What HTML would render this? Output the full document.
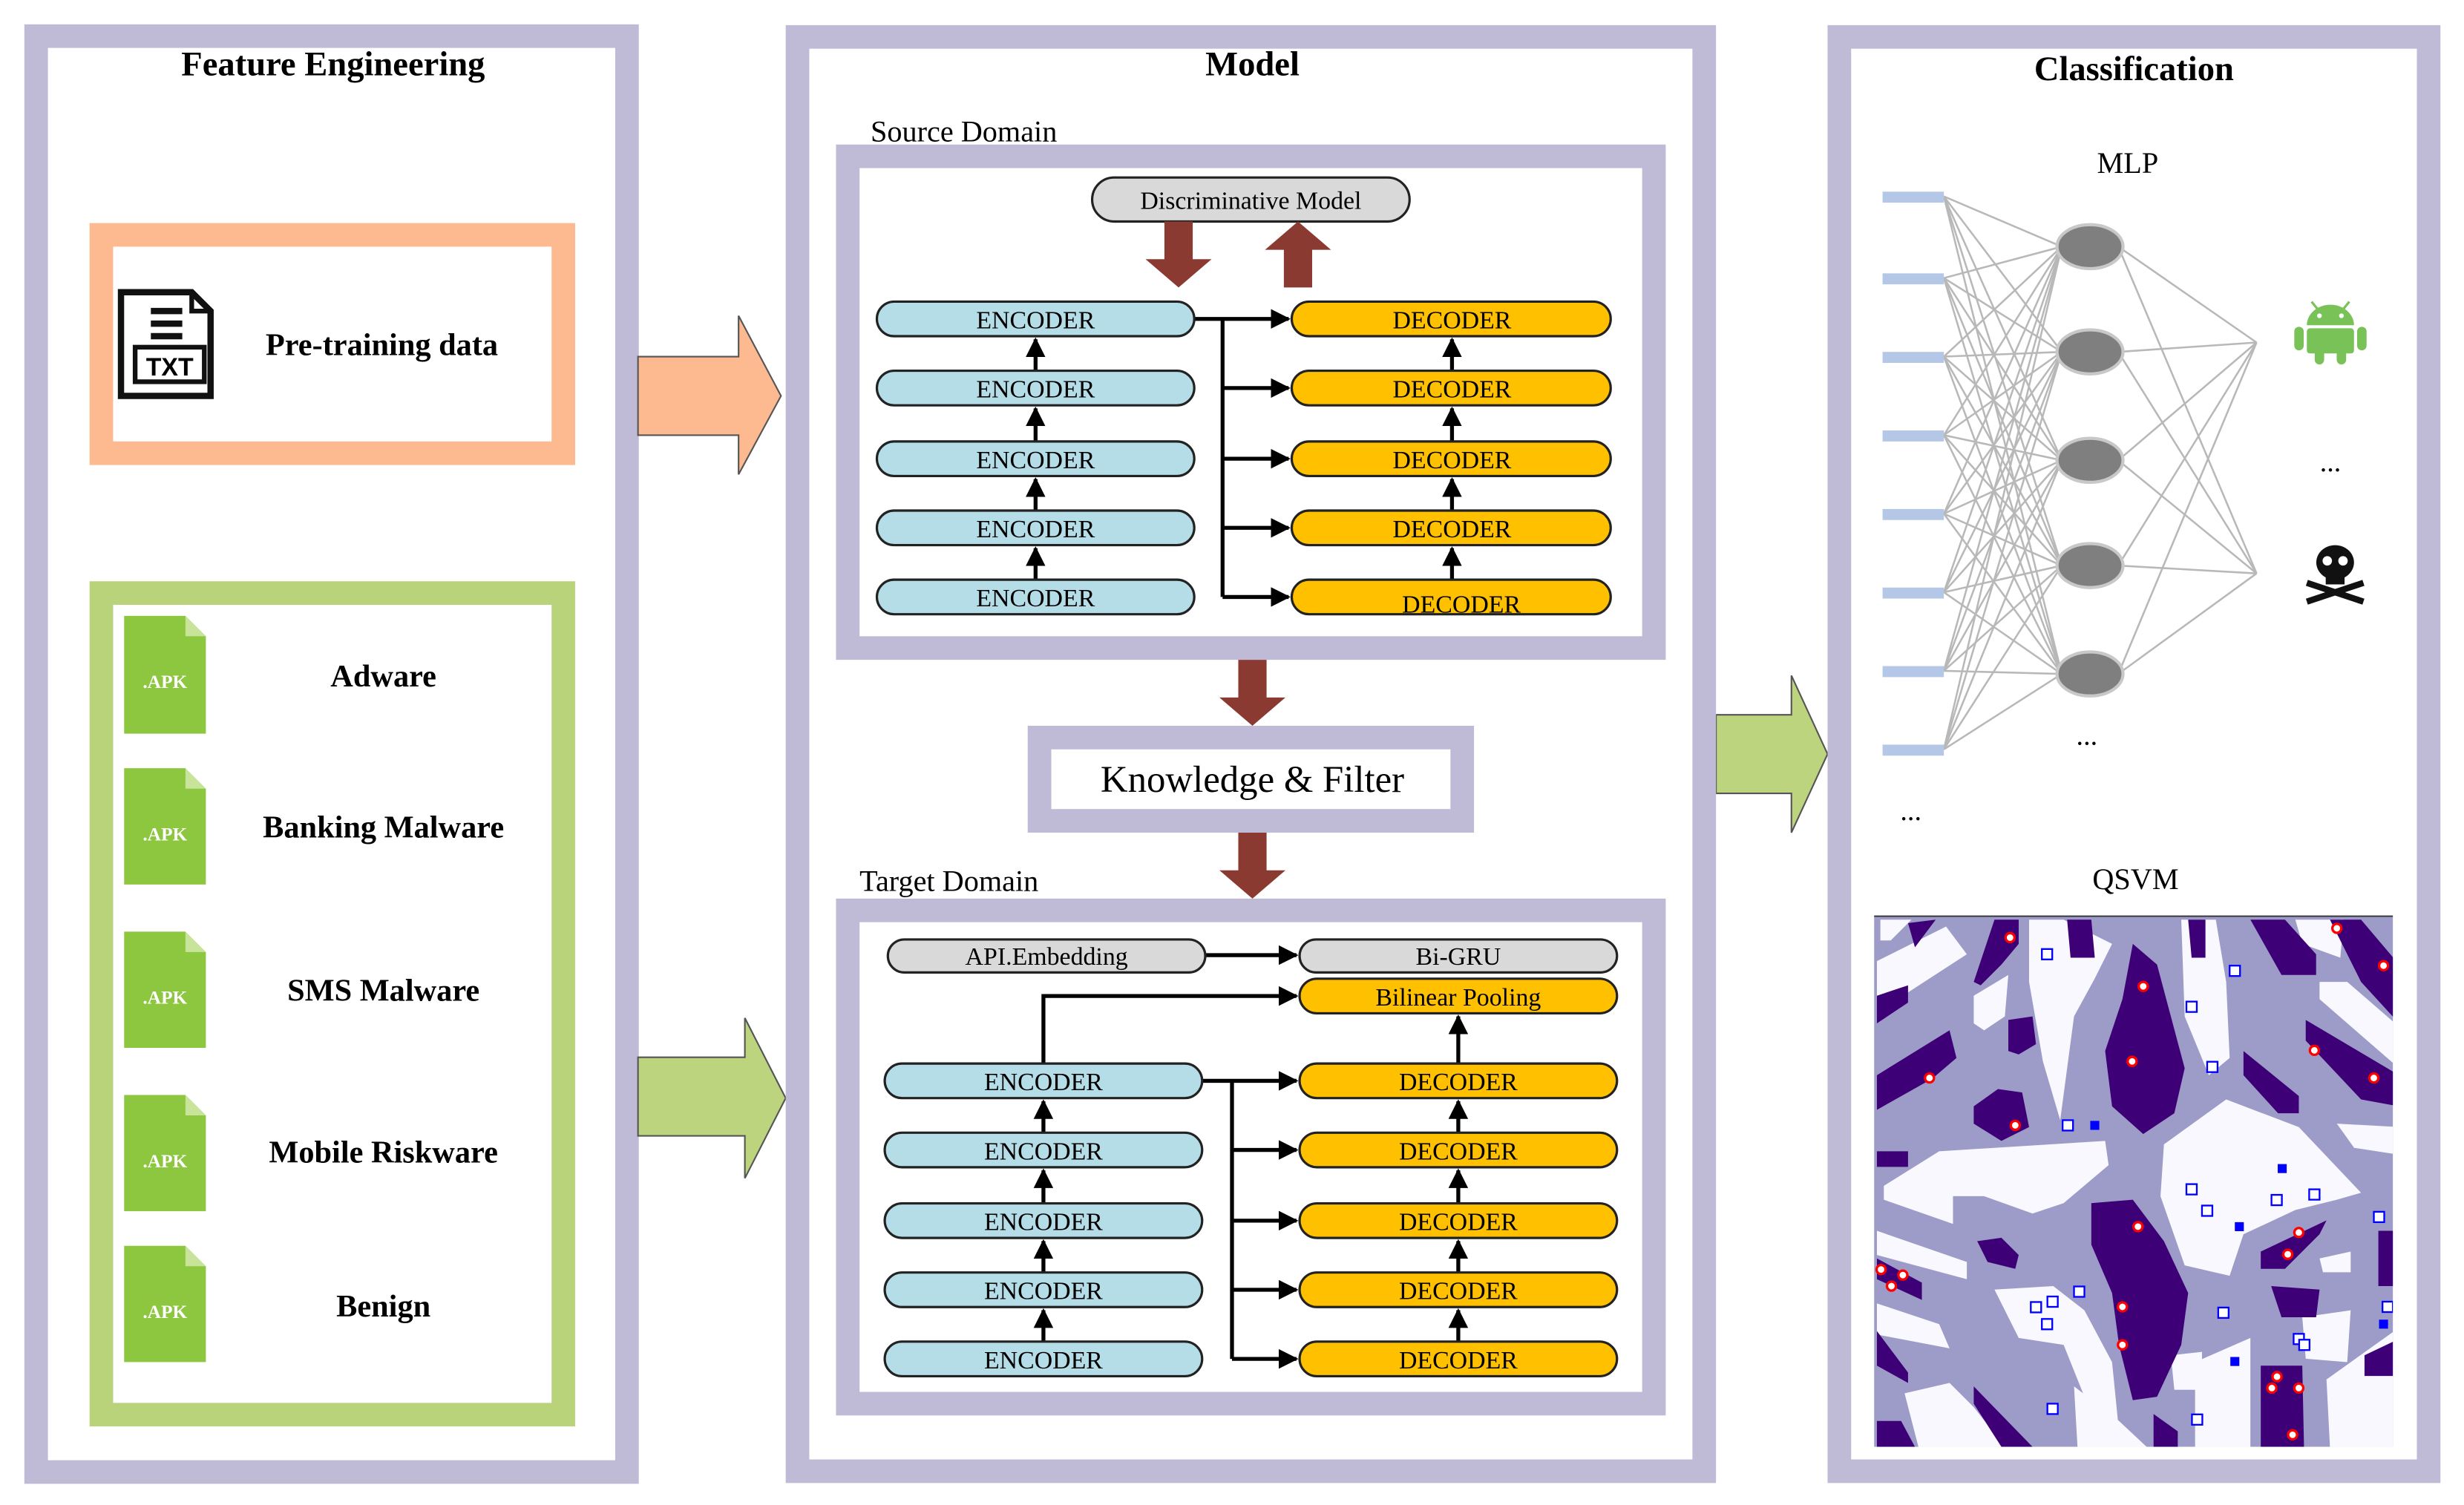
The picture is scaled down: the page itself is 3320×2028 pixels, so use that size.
<!DOCTYPE html>
<html><head><meta charset="utf-8">
<style>
html,body{margin:0;padding:0;background:#fff;}
svg{display:block;}
text{font-family:"Liberation Serif",serif;}
</style></head><body>
<svg width="3320" height="2028" viewBox="0 0 1568 958" preserveAspectRatio="none" xmlns="http://www.w3.org/2000/svg">
<defs>
<marker id="ah" viewBox="0 0 10 10" refX="9" refY="5" markerWidth="5" markerHeight="5" orient="auto"><path d="M0,0L10,5L0,10z" fill="#000"/></marker>
<clipPath id="pc"><rect x="12" y="10" width="1500" height="1535"/></clipPath>
</defs>
<rect width="1568" height="958" fill="#fff"/>
<!-- Panel 1 -->
<rect x="23" y="23" width="376" height="914" fill="#fff" stroke="#bfbad6" stroke-width="15"/>
<text x="212" y="48" font-size="22" font-weight="bold" text-anchor="middle">Feature Engineering</text>
<rect x="64.5" y="149.5" width="294" height="139" fill="#fff" stroke="#fdb98f" stroke-width="15"/>
<g>
<path d="M77,186 H122 L134,198 V252 H77 Z" fill="#fff" stroke="#111" stroke-width="4"/>
<path d="M122,186 V198 H134" fill="none" stroke="#111" stroke-width="3"/>
<line x1="96" y1="198" x2="116" y2="198" stroke="#111" stroke-width="4"/>
<line x1="96" y1="206" x2="116" y2="206" stroke="#111" stroke-width="4"/>
<line x1="96" y1="214" x2="116" y2="214" stroke="#111" stroke-width="4"/>
<rect x="86" y="221" width="44" height="22" fill="#fff" stroke="#111" stroke-width="3"/>
<text x="108" y="239" font-size="16" font-weight="bold" text-anchor="middle" style="font-family:'Liberation Sans',sans-serif">TXT</text>
</g>
<text x="243" y="226" font-size="20" font-weight="bold" text-anchor="middle">Pre-training data</text>
<rect x="64.5" y="377.5" width="294" height="523" fill="#fff" stroke="#b9d37a" stroke-width="15"/>
<path d="M79,392 H118 L131,405 V467 H79 Z" fill="#8dc63f"/><path d="M118,392 V405 H131 Z" fill="#c8e39a"/>
<path d="M79,489 H118 L131,502 V563 H79 Z" fill="#8dc63f"/><path d="M118,489 V502 H131 Z" fill="#c8e39a"/>
<path d="M79,593 H118 L131,606 V667 H79 Z" fill="#8dc63f"/><path d="M118,593 V606 H131 Z" fill="#c8e39a"/>
<path d="M79,697 H118 L131,710 V771 H79 Z" fill="#8dc63f"/><path d="M118,697 V710 H131 Z" fill="#c8e39a"/>
<path d="M79,793 H118 L131,806 V867 H79 Z" fill="#8dc63f"/><path d="M118,793 V806 H131 Z" fill="#c8e39a"/>
<g fill="#ffffff" font-size="12" font-weight="bold" text-anchor="middle" style="font-family:'Liberation Sans',sans-serif">
<text x="105" y="438" fill="#ffffff">.APK</text>
<text x="105" y="535" fill="#ffffff">.APK</text>
<text x="105" y="639" fill="#ffffff">.APK</text>
<text x="105" y="743" fill="#ffffff">.APK</text>
<text x="105" y="839" fill="#ffffff">.APK</text>
</g>
<g font-size="20" font-weight="bold" text-anchor="middle">
<text x="244" y="437">Adware</text>
<text x="244" y="533">Banking Malware</text>
<text x="244" y="637">SMS Malware</text>
<text x="244" y="740">Mobile Riskware</text>
<text x="244" y="838">Benign</text>
</g>
<path d="M406,227 H470 V201 L497,252 L470,302 V277 H406 Z" fill="#fdb98f" stroke="#555" stroke-width="1"/>
<path d="M406,673 H474 V648 L500,699 L474,750 V723 H406 Z" fill="#bcd47e" stroke="#555" stroke-width="1"/>
<path d="M1092,455 H1140 V430 L1163,480 L1140,530 V505 H1092 Z" fill="#bcd47e" stroke="#555" stroke-width="1"/>
<!-- Panel 2 -->
<rect x="507.5" y="23.5" width="577" height="913" fill="#fff" stroke="#bfbad6" stroke-width="15"/>
<text x="797" y="48" font-size="22" font-weight="bold" text-anchor="middle">Model</text>
<text x="554" y="90" font-size="19">Source Domain</text>
<rect x="539.5" y="99.5" width="513" height="313" fill="#fff" stroke="#bfbad6" stroke-width="15"/>
<rect x="695" y="113" width="202" height="28" rx="14" fill="#d9d9d9" stroke="#222" stroke-width="1.5"/>
<text x="796" y="133" font-size="16" text-anchor="middle">Discriminative Model</text>
<path d="M741,141 H759 V165 H771 L750,183 L729,165 H741 Z" fill="#8b3a32"/>
<path d="M817,183 H835 V159 H847 L826,141 L805,159 H817 Z" fill="#8b3a32"/>
<g stroke="#000" stroke-width="2.5" fill="none">
<path d="M760,203 H820" marker-end="url(#ah)"/>
<path d="M778,203 V380"/>
<path d="M778,247 H820" marker-end="url(#ah)"/>
<path d="M778,292 H820" marker-end="url(#ah)"/>
<path d="M778,336 H820" marker-end="url(#ah)"/>
<path d="M778,380 H820" marker-end="url(#ah)"/>
<path d="M659,369 V349" marker-end="url(#ah)"/>
<path d="M659,325 V305" marker-end="url(#ah)"/>
<path d="M659,281 V260" marker-end="url(#ah)"/>
<path d="M659,236 V216" marker-end="url(#ah)"/>
<path d="M924,369 V349" marker-end="url(#ah)"/>
<path d="M924,325 V305" marker-end="url(#ah)"/>
<path d="M924,281 V260" marker-end="url(#ah)"/>
<path d="M924,236 V216" marker-end="url(#ah)"/>
</g>
<g font-size="16" text-anchor="middle">
<rect x="558" y="192" width="202" height="22" rx="11" fill="#b4dde8" stroke="#222" stroke-width="1.5"/><text x="659" y="209">ENCODER</text>
<rect x="558" y="236" width="202" height="22" rx="11" fill="#b4dde8" stroke="#222" stroke-width="1.5"/><text x="659" y="253">ENCODER</text>
<rect x="558" y="281" width="202" height="22" rx="11" fill="#b4dde8" stroke="#222" stroke-width="1.5"/><text x="659" y="298">ENCODER</text>
<rect x="558" y="325" width="202" height="22" rx="11" fill="#b4dde8" stroke="#222" stroke-width="1.5"/><text x="659" y="342">ENCODER</text>
<rect x="558" y="369" width="202" height="22" rx="11" fill="#b4dde8" stroke="#222" stroke-width="1.5"/><text x="659" y="386">ENCODER</text>
<rect x="822" y="192" width="203" height="22" rx="11" fill="#ffc000" stroke="#222" stroke-width="1.5"/><text x="924" y="209">DECODER</text>
<rect x="822" y="236" width="203" height="22" rx="11" fill="#ffc000" stroke="#222" stroke-width="1.5"/><text x="924" y="253">DECODER</text>
<rect x="822" y="281" width="203" height="22" rx="11" fill="#ffc000" stroke="#222" stroke-width="1.5"/><text x="924" y="298">DECODER</text>
<rect x="822" y="325" width="203" height="22" rx="11" fill="#ffc000" stroke="#222" stroke-width="1.5"/><text x="924" y="342">DECODER</text>
<rect x="822" y="369" width="203" height="22" rx="11" fill="#ffc000" stroke="#222" stroke-width="1.5"/><text x="930" y="390">DECODER</text>
</g>
<path d="M788,420 H806 V444 H818 L797,462 L776,444 H788 Z" fill="#8b3a32"/>
<rect x="661.5" y="469.5" width="269" height="53" fill="#fff" stroke="#bfbad6" stroke-width="15"/>
<text x="797" y="504" font-size="24" text-anchor="middle">Knowledge &amp; Filter</text>
<path d="M788,530 H806 V554 H818 L797,572 L776,554 H788 Z" fill="#8b3a32"/>
<text x="547" y="567" font-size="19">Target Domain</text>
<rect x="539.5" y="579.5" width="513" height="314" fill="#fff" stroke="#bfbad6" stroke-width="15"/>
<g stroke="#000" stroke-width="2.5" fill="none">
<path d="M767,608 H825" marker-end="url(#ah)"/>
<path d="M664,677 V634 H825" marker-end="url(#ah)"/>
<path d="M928,677 V647" marker-end="url(#ah)"/>
<path d="M765,688 H825" marker-end="url(#ah)"/>
<path d="M784,688 V865"/>
<path d="M784,732 H825" marker-end="url(#ah)"/>
<path d="M784,777 H825" marker-end="url(#ah)"/>
<path d="M784,821 H825" marker-end="url(#ah)"/>
<path d="M784,865 H825" marker-end="url(#ah)"/>
<path d="M664,854 V834" marker-end="url(#ah)"/>
<path d="M664,810 V790" marker-end="url(#ah)"/>
<path d="M664,766 V745" marker-end="url(#ah)"/>
<path d="M664,721 V701" marker-end="url(#ah)"/>
<path d="M928,854 V834" marker-end="url(#ah)"/>
<path d="M928,810 V790" marker-end="url(#ah)"/>
<path d="M928,766 V745" marker-end="url(#ah)"/>
<path d="M928,721 V701" marker-end="url(#ah)"/>
</g>
<g font-size="16" text-anchor="middle">
<rect x="565" y="598" width="202" height="21" rx="10.5" fill="#d9d9d9" stroke="#222" stroke-width="1.5"/><text x="666" y="614">API.Embedding</text>
<rect x="827" y="598" width="202" height="21" rx="10.5" fill="#d9d9d9" stroke="#222" stroke-width="1.5"/><text x="928" y="614">Bi-GRU</text>
<rect x="827" y="623" width="202" height="22" rx="11" fill="#ffc000" stroke="#222" stroke-width="1.5"/><text x="928" y="640">Bilinear Pooling</text>
<rect x="563" y="677" width="202" height="22" rx="11" fill="#b4dde8" stroke="#222" stroke-width="1.5"/><text x="664" y="694">ENCODER</text>
<rect x="563" y="721" width="202" height="22" rx="11" fill="#b4dde8" stroke="#222" stroke-width="1.5"/><text x="664" y="738">ENCODER</text>
<rect x="563" y="766" width="202" height="22" rx="11" fill="#b4dde8" stroke="#222" stroke-width="1.5"/><text x="664" y="783">ENCODER</text>
<rect x="563" y="810" width="202" height="22" rx="11" fill="#b4dde8" stroke="#222" stroke-width="1.5"/><text x="664" y="827">ENCODER</text>
<rect x="563" y="854" width="202" height="22" rx="11" fill="#b4dde8" stroke="#222" stroke-width="1.5"/><text x="664" y="871">ENCODER</text>
<rect x="827" y="677" width="202" height="22" rx="11" fill="#ffc000" stroke="#222" stroke-width="1.5"/><text x="928" y="694">DECODER</text>
<rect x="827" y="721" width="202" height="22" rx="11" fill="#ffc000" stroke="#222" stroke-width="1.5"/><text x="928" y="738">DECODER</text>
<rect x="827" y="766" width="202" height="22" rx="11" fill="#ffc000" stroke="#222" stroke-width="1.5"/><text x="928" y="783">DECODER</text>
<rect x="827" y="810" width="202" height="22" rx="11" fill="#ffc000" stroke="#222" stroke-width="1.5"/><text x="928" y="827">DECODER</text>
<rect x="827" y="854" width="202" height="22" rx="11" fill="#ffc000" stroke="#222" stroke-width="1.5"/><text x="928" y="871">DECODER</text>
</g>
<!-- Panel 3 -->
<rect x="1170.5" y="23.5" width="375" height="913" fill="#fff" stroke="#bfbad6" stroke-width="15"/>
<text x="1358" y="51" font-size="22" font-weight="bold" text-anchor="middle">Classification</text>
<text x="1354" y="110" font-size="19" text-anchor="middle">MLP</text>
<g stroke="#b8b8b8" stroke-width="1.2" id="lines"></g>
<script>
(function(){
var ns="http://www.w3.org/2000/svg",g=document.getElementById("lines");
var ins=[125,177,227,277,327,377,427,477],hs=[157,224,293,360,429],os=[218,365];
function L(a,b,c,d){var l=document.createElementNS(ns,"line");l.setAttribute("x1",a);l.setAttribute("y1",b);l.setAttribute("x2",c);l.setAttribute("y2",d);g.appendChild(l);}
ins.forEach(function(y){hs.forEach(function(h){L(1237,y,1312,h);});});
hs.forEach(function(h){os.forEach(function(o){L(1348,h,1436,o);});});
})();
</script>
<g fill="#b4c7e7">
<rect x="1198" y="122" width="39" height="7"/><rect x="1198" y="174" width="39" height="7"/><rect x="1198" y="224" width="39" height="7"/><rect x="1198" y="274" width="39" height="7"/><rect x="1198" y="324" width="39" height="7"/><rect x="1198" y="374" width="39" height="7"/><rect x="1198" y="424" width="39" height="7"/><rect x="1198" y="474" width="39" height="7"/>
</g>
<g fill="#7f7f7f" stroke="#c8c8c8" stroke-width="2">
<ellipse cx="1330" cy="157" rx="21" ry="14"/><ellipse cx="1330" cy="224" rx="21" ry="14"/><ellipse cx="1330" cy="293" rx="21" ry="14"/><ellipse cx="1330" cy="360" rx="21" ry="14"/><ellipse cx="1330" cy="429" rx="21" ry="14"/>
</g>
<g fill="#78c257">
<path d="M1468,207 a15,13 0 0 1 30,0 z"/>
<rect x="1468" y="209" width="30" height="16" rx="2"/>
<rect x="1460" y="208" width="6" height="15" rx="3"/><rect x="1500" y="208" width="6" height="15" rx="3"/>
<rect x="1473" y="222" width="6" height="10" rx="3"/><rect x="1487" y="222" width="6" height="10" rx="3"/>
<line x1="1471" y1="192" x2="1475" y2="197" stroke="#78c257" stroke-width="1.5"/><line x1="1495" y1="192" x2="1491" y2="197" stroke="#78c257" stroke-width="1.5"/>
</g>
<circle cx="1476" cy="201" r="1.5" fill="#fff"/><circle cx="1490" cy="201" r="1.5" fill="#fff"/>
<text x="1483" y="300" font-size="18" text-anchor="middle">...</text>
<g fill="#111">
<path d="M1468,371 L1504,383 M1504,371 L1468,383" stroke="#111" stroke-width="4"/>
<ellipse cx="1486" cy="358" rx="12" ry="11"/>
<rect x="1480" y="363" width="12" height="9"/>
</g>
<circle cx="1481" cy="357" r="3" fill="#fff"/><circle cx="1491" cy="357" r="3" fill="#fff"/>
<text x="1328" y="474" font-size="18" text-anchor="middle">...</text>
<text x="1216" y="522" font-size="18" text-anchor="middle">...</text>
<text x="1359" y="566" font-size="19" text-anchor="middle">QSVM</text>
<svg x="1190" y="581" width="340" height="340" viewBox="0 0 1545 1545">
<g clip-path="url(#pc)">
<rect x="0" y="0" width="1545" height="1545" fill="#9d9bc8"/>
<g fill="#f8f8fe">
<polygon points="850,670 1030,540 1240,620 1420,810 1350,830 1230,860 1080,930 1040,1050 910,1020 840,820"/>
<polygon points="40,790 200,690 680,660 690,730 560,840 470,870 330,820 240,820 240,900 40,830"/>
<polygon points="460,20 560,20 700,90 650,190 590,300 550,600 500,430 460,200"/>
<polygon points="360,1090 530,1080 620,1150 700,1300 720,1500 640,1450 560,1250 430,1230"/>
<polygon points="900,20 1000,20 1030,200 1040,420 980,470 910,300"/>
<polygon points="1230,20 1370,20 1360,130 1250,90"/>
<polygon points="1300,200 1380,200 1530,330 1530,450 1300,250"/>
<polygon points="20,140 220,40 280,120 80,250 20,260"/>
<polygon points="300,240 400,180 390,300 330,340 300,320"/>
<polygon points="1250,1170 1390,1150 1380,1300 1260,1290"/>
<polygon points="870,1280 960,1270 960,1380 880,1380"/>
<polygon points="940,1300 1100,1230 1100,1545 940,1545"/>
<polygon points="20,1130 200,1190 230,1260 20,1220"/>
<polygon points="100,1390 230,1360 300,1430 390,1545 140,1545"/>
<polygon points="590,1370 720,1470 800,1545 600,1545"/>
<polygon points="1320,1350 1530,1200 1530,1545 1330,1545"/>
<polygon points="1300,1000 1390,980 1390,1040 1310,1040"/>
<polygon points="1350,610 1530,620 1530,700 1400,680"/>
<polygon points="20,920 280,1010 280,1060 20,990"/>
<polygon points="30,20 120,20 60,80 30,80"/>
</g>
<g fill="#3d0077">
<polygon points="640,840 760,830 850,950 920,1100 900,1250 830,1400 760,1410 720,1250 700,1100 640,960"/>
<polygon points="760,90 830,150 870,300 910,450 880,580 790,640 700,560 680,400 730,250"/>
<polygon points="20,470 230,340 250,420 180,480 20,570"/>
<polygon points="300,560 370,510 440,520 460,620 380,660 300,610"/>
<polygon points="300,200 360,20 430,20 430,90 380,150 320,210"/>
<polygon points="1100,20 1200,20 1290,120 1290,180 1190,180"/>
<polygon points="1330,20 1420,20 1530,150 1530,320 1420,200"/>
<polygon points="1260,310 1530,470 1530,560 1420,540 1260,370"/>
<polygon points="1080,400 1240,530 1240,580 1180,580 1080,470"/>
<polygon points="1130,980 1320,890 1300,930 1200,1030 1130,1030"/>
<polygon points="1470,920 1535,920 1535,1080 1470,1080"/>
<polygon points="1160,1080 1300,1090 1290,1170 1190,1170"/>
<polygon points="1130,1310 1250,1310 1255,1545 1130,1545"/>
<polygon points="820,1450 890,1500 890,1545 820,1545"/>
<polygon points="300,1370 470,1545 380,1545 300,1420"/>
<polygon points="20,1210 110,1330 110,1360 20,1310"/>
<polygon points="20,1000 150,1070 150,1120 20,1060"/>
<polygon points="310,950 380,940 430,990 420,1030 340,1010"/>
<polygon points="20,690 110,690 110,735 20,735"/>
<polygon points="570,20 640,20 650,130 580,130"/>
<polygon points="20,240 110,210 110,260 20,320"/>
<polygon points="400,310 470,300 480,380 430,410 400,400"/>
<polygon points="110,30 190,20 130,100"/>
<polygon points="920,20 970,20 970,130 930,130"/>
<polygon points="1430,1280 1535,1230 1535,1340 1430,1340"/>
<polygon points="20,1470 90,1470 130,1545 20,1545"/>
</g>
<g fill="#fff" stroke="#ff0000" stroke-width="7">
<circle cx="405" cy="72" r="13"/><circle cx="1350" cy="45" r="13"/><circle cx="1485" cy="153" r="13"/><circle cx="790" cy="213" r="13"/><circle cx="758" cy="430" r="13"/><circle cx="1285" cy="398" r="13"/><circle cx="1457" cy="478" r="13"/><circle cx="172" cy="478" r="13"/><circle cx="420" cy="615" r="13"/><circle cx="775" cy="908" r="13"/><circle cx="1240" cy="925" r="13"/><circle cx="1208" cy="988" r="13"/><circle cx="32" cy="1032" r="13"/><circle cx="95" cy="1048" r="13"/><circle cx="62" cy="1080" r="13"/><circle cx="730" cy="1140" r="13"/><circle cx="730" cy="1250" r="13"/><circle cx="1177" cy="1342" r="13"/><circle cx="1162" cy="1375" r="13"/><circle cx="1240" cy="1375" r="13"/><circle cx="1222" cy="1510" r="13"/>
</g>
<g fill="#fff" stroke="#0000ff" stroke-width="5">
<rect x="497" y="105" width="30" height="30"/><rect x="1040" y="153" width="30" height="30"/><rect x="915" y="257" width="30" height="30"/><rect x="975" y="431" width="30" height="30"/><rect x="557" y="600" width="30" height="30"/><rect x="915" y="785" width="30" height="30"/><rect x="960" y="847" width="30" height="30"/><rect x="1161" y="816" width="30" height="30"/><rect x="1270" y="800" width="30" height="30"/><rect x="1457" y="865" width="30" height="30"/><rect x="590" y="1081" width="30" height="30"/><rect x="513" y="1110" width="30" height="30"/><rect x="465" y="1126" width="30" height="30"/><rect x="497" y="1175" width="30" height="30"/><rect x="1007" y="1142" width="30" height="30"/><rect x="1225" y="1218" width="30" height="30"/><rect x="1241" y="1235" width="30" height="30"/><rect x="1482" y="1125" width="30" height="30"/><rect x="513" y="1420" width="30" height="30"/><rect x="931" y="1451" width="30" height="30"/>
</g>
<g fill="#0000ff">
<rect x="637" y="602" width="26" height="26"/><rect x="1179" y="727" width="26" height="26"/><rect x="1055" y="895" width="26" height="26"/><rect x="1472" y="1177" width="26" height="26"/><rect x="1042" y="1285" width="26" height="26"/>
</g>
</g>
<line x1="12" y1="10" x2="1512" y2="10" stroke="#333" stroke-width="4"/>
</svg>
</svg>
</body></html>
